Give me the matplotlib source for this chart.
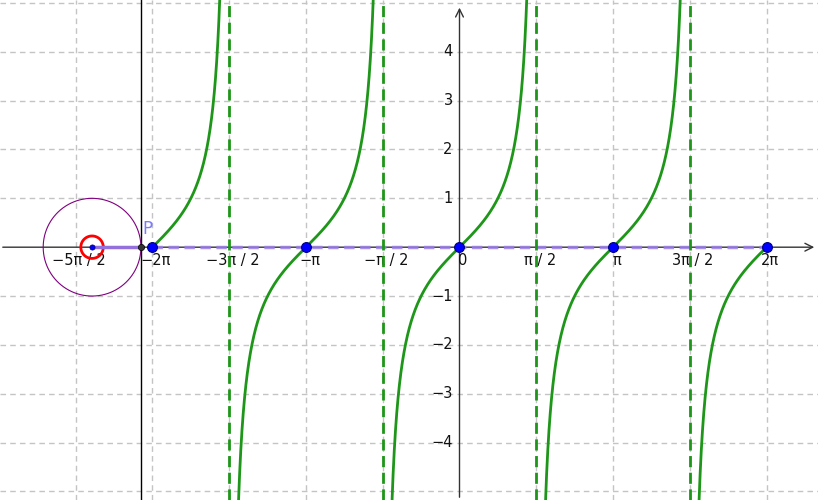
import numpy as np
import matplotlib.pyplot as plt

# data
pi = np.pi
x_ticks = [-5*pi/2, -2*pi, -3*pi/2, -pi, -pi/2, 0, pi/2, pi, 3*pi/2, 2*pi]
x_labels = ["\u22125\u03c0 / 2", "\u22122\u03c0", "\u22123\u03c0 / 2", "\u2212\u03c0", "\u2212\u03c0 / 2",
            "0", "\u03c0 / 2", "\u03c0", "3\u03c0 / 2", "2\u03c0"]
y_ticks = [-4, -3, -2, -1, 1, 2, 3, 4]
asymptotes = [-3*pi/2, -pi/2, pi/2, 3*pi/2]
branches = [(-2*pi, -3*pi/2), (-3*pi/2, -pi/2), (-pi/2, pi/2), (pi/2, 3*pi/2), (3*pi/2, 2*pi)]
zeros_x = [-2*pi, -pi, 0, pi, 2*pi]
circle_center = (-7.52, 0)
circle_r = 1.0
P = (-6.52, 0)

xmin, xmax = -9.404, 7.337
ymin, ymax = -5.174, 5.059

fig = plt.figure(figsize=(8.18, 5), dpi=100)
ax = fig.add_axes([0, 0, 1, 1])
ax.set_xlim(xmin, xmax)
ax.set_ylim(ymin, ymax)
ax.axis('off')

grid_col = '#c4c4c4'
# grid
for k in range(-6, 6):
    gx = k * pi / 2
    if xmin < gx < xmax and k != 0:
        ax.plot([gx, gx], [ymin, ymax], color=grid_col, lw=1, ls=(0, (4, 3)), zorder=1)
for gy in range(-5, 6):
    if gy != 0:
        ax.plot([xmin, xmax], [gy, gy], color=grid_col, lw=1, ls=(0, (4, 3)), zorder=1)

# axes
ax.annotate('', xy=(xmax - 0.02, 0), xytext=(xmin, 0),
            arrowprops=dict(arrowstyle='->', color='#333333', lw=1, mutation_scale=14), zorder=2)
ax.annotate('', xy=(0, ymax - 0.1), xytext=(0, ymin),
            arrowprops=dict(arrowstyle='->', color='#333333', lw=1, mutation_scale=14), zorder=2)

for xt, lab in zip(x_ticks, x_labels):
    ax.text(xt + 0.07, -0.12, lab, ha='center', va='top', fontsize=10.5, color='#111111', zorder=3)
for yt in y_ticks:
    ax.text(-0.14, yt, str(yt).replace('-', '\u2212'), ha='right', va='center', fontsize=10.5,
            color='#111111', zorder=3)

# vertical black line through P
ax.plot([P[0], P[0]], [ymin, ymax], color='black', lw=1, zorder=2)

# unit circle and angle marker
t = np.linspace(0, 2*pi, 400)
ax.plot(circle_center[0] + circle_r*np.cos(t), circle_center[1] + circle_r*np.sin(t),
        color='#800080', lw=0.8, zorder=3)
ax.plot(circle_center[0] + 0.23*np.cos(t), circle_center[1] + 0.23*np.sin(t),
        color='#ff0000', lw=2, zorder=4)

# segment and dashed trace
ax.plot([circle_center[0], P[0]], [0, 0], color='#9370db', lw=2.5, zorder=4)
ax.plot([-2*pi, 2*pi], [0, 0], color='#9b7fe8', lw=2.5, ls=(0, (3, 1.6)), alpha=0.85, zorder=4)

# asymptotes
for a in asymptotes:
    ax.plot([a, a], [ymin, ymax], color='#1e9619', lw=2, ls=(0, (4, 2)), zorder=5)

# tan branches
for a, b in branches:
    xs = np.linspace(a, b, 2000)[1:-1]
    if a not in asymptotes:
        xs = np.concatenate(([a], xs))
    if b not in asymptotes:
        xs = np.concatenate((xs, [b]))
    ys = np.tan(xs)
    m = np.abs(ys) < 8
    ax.plot(xs[m], ys[m], color='#1e9619', lw=2, zorder=6)

# points
ax.scatter(zeros_x, [0]*len(zeros_x), s=50, color='#0000ff', edgecolor='#00007f', linewidth=0.8, zorder=8)
ax.scatter([circle_center[0]], [0], s=14, color='#0000ff', edgecolor='#00007f', linewidth=0.5, zorder=8)
ax.scatter([P[0]], [0], s=20, color='#333333', edgecolor='black', linewidth=0.5, zorder=8)
ax.text(P[0] + 0.02, 0.18, 'P', color='#7b7bff', fontsize=12, ha='left', va='bottom', zorder=8)

fig.savefig('out.png', dpi=100)
